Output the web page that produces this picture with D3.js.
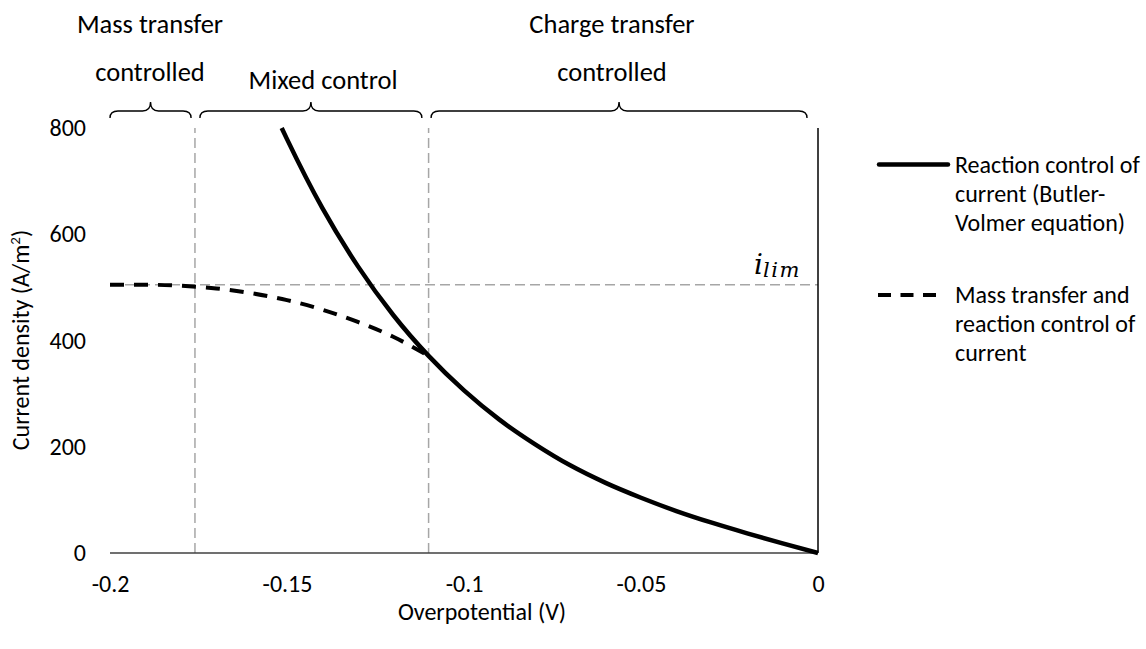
<!DOCTYPE html>
<html>
<head>
<meta charset="utf-8">
<script src="https://cdn.jsdelivr.net/npm/d3@7"></script>
<style>
  html, body { margin: 0; padding: 0; background: #fff; }
  svg { display: block; }
  text { font-family: Carlito, Calibri, Lato, sans-serif; fill: #000; }
</style>
</head>
<body>
<svg id="chart" width="1146" height="649"></svg>
<script>
// Overpotential (V) and current density (A/m²) for the Butler-Volmer curve
const bvEta = [-0.1515, -0.15, -0.14, -0.13, -0.12, -0.11, -0.10, -0.09, -0.08,
               -0.07, -0.06, -0.05, -0.04, -0.03, -0.02, -0.01, 0];
const bvCurrent = [800, 779, 649, 540, 448, 371, 306, 251, 205,
                   165, 132, 104, 79, 57, 37, 18, 0];

// Combined mass transfer + reaction control
const mixEta = [-0.20, -0.19, -0.18, -0.17, -0.16, -0.15, -0.14, -0.13, -0.12, -0.11];
const mixCurrent = [505, 505, 503, 498, 489, 476, 458, 435, 407, 371];

// Limiting current and region boundaries
const iLim = 505;
const boundaries = [-0.176, -0.11];

// Region braces along the top (extent in V) and their labels
const regionFrom = [-0.2, -0.1746, -0.1093];
const regionTo = [-0.1771, -0.1119, -0.0031];
const regionLabelAt = [-0.1887, -0.1398, -0.0582];
const regionLabels = [["Mass transfer", "controlled"], ["Mixed control"], ["Charge transfer", "controlled"]];

// Axes
const xTicks = [-0.2, -0.15, -0.1, -0.05, 0];
const xTickLabels = ["-0.2", "-0.15", "-0.1", "-0.05", "0"];
const yTicks = [0, 200, 400, 600, 800];

// Legend
const legendLabels = [
  ["Reaction control of", "current (Butler-", "Volmer equation)"],
  ["Mass transfer and", "reaction control of", "current"]
];

const svg = d3.select("#chart");
const x = d3.scaleLinear().domain([-0.2, 0]).range([110, 818]);
const y = d3.scaleLinear().domain([0, 800]).range([553, 128]);

// Y tick labels (left)
const yAxis = d3.axisLeft(y).tickValues(yTicks).tickSize(0).tickPadding(0).tickFormat(d3.format("d"));
const gy = svg.append("g").attr("transform", "translate(86,0)").call(yAxis);
gy.select(".domain").remove();
gy.selectAll("text").attr("font-size", 24).attr("font-family", null).attr("fill", "#000");

// X tick labels (bottom)
const xAxis = d3.axisBottom(x).tickValues(xTicks).tickSize(0).tickPadding(0)
  .tickFormat((d, i) => xTickLabels[i]);
const gx = svg.append("g").attr("transform", "translate(0,580)").call(xAxis);
gx.select(".domain").remove();
gx.selectAll("text").attr("font-size", 24).attr("font-family", null).attr("fill", "#000").attr("dy", "0.5em");

// Gray dashed guides
const guide = svg.append("g").attr("stroke", "#a6a6a6").attr("stroke-width", 1.5)
  .attr("stroke-dasharray", "10,5").attr("fill", "none");
guide.append("line").attr("x1", x(-0.2)).attr("x2", x(0)).attr("y1", y(iLim)).attr("y2", y(iLim));
guide.selectAll("line.v").data(boundaries).join("line").attr("class", "v")
  .attr("x1", d => x(d)).attr("x2", d => x(d)).attr("y1", y(0)).attr("y2", y(800));

// Axis lines
svg.append("line").attr("x1", x(-0.2)).attr("x2", x(0)).attr("y1", y(0)).attr("y2", y(0))
  .attr("stroke", "#404040").attr("stroke-width", 1.5);
svg.append("line").attr("x1", x(0)).attr("x2", x(0)).attr("y1", y(0)).attr("y2", y(800))
  .attr("stroke", "#000").attr("stroke-width", 1.5);

// Curves
const line = d3.line().x(d => x(d[0])).y(d => y(d[1])).curve(d3.curveMonotoneX);
svg.append("path").datum(mixEta.map((e, i) => [e, mixCurrent[i]]))
  .attr("d", line).attr("fill", "none").attr("stroke", "#000")
  .attr("stroke-width", 4).attr("stroke-dasharray", "14,10");
svg.append("path").datum(bvEta.map((e, i) => [e, bvCurrent[i]]))
  .attr("d", line).attr("fill", "none").attr("stroke", "#000").attr("stroke-width", 4.5);

// i_lim label
const lim = svg.append("text").attr("x", 754).attr("y", 274)
  .style("font-family", "'DejaVu Serif', serif").style("font-style", "italic");
lim.append("tspan").attr("font-size", 28).text("i");
lim.append("tspan").attr("font-size", 21).attr("dy", 3).attr("letter-spacing", 1.5).text("lim");

// Curly braces
function bracePath(x0, x1) {
  const yb = 118, yh = 111, yp = 102, r = 8;
  const xm = (x0 + x1) / 2;
  return `M${x0},${yb} Q${x0},${yh} ${x0 + r},${yh} L${xm - r},${yh} Q${xm},${yh} ${xm},${yp}` +
         ` Q${xm},${yh} ${xm + r},${yh} L${x1 - r},${yh} Q${x1},${yh} ${x1},${yb}`;
}
svg.append("g").selectAll("path").data(regionFrom).join("path")
  .attr("d", (d, i) => bracePath(x(d), x(regionTo[i])))
  .attr("fill", "none").attr("stroke", "#000").attr("stroke-width", 1.4);

// Region labels
const labelBaselines = { 2: [33, 81], 1: [89] };
regionLabels.forEach((lines, i) => {
  const t = svg.append("text").attr("text-anchor", "middle").attr("font-size", 26.5);
  lines.forEach((s, j) => {
    t.append("tspan").attr("x", x(regionLabelAt[i])).attr("y", labelBaselines[lines.length][j]).text(s);
  });
});

// Axis titles
svg.append("text").attr("x", 482).attr("y", 620).attr("text-anchor", "middle")
  .attr("font-size", 24).text("Overpotential (V)");
const yt = svg.append("text").attr("transform", "translate(29,340) rotate(-90)")
  .attr("text-anchor", "middle").attr("font-size", 24);
yt.append("tspan").text("Current density (A/m");
yt.append("tspan").attr("font-size", 15).attr("dy", -9).text("2");
yt.append("tspan").attr("dy", 9).text(")");

// Legend
const legend = svg.append("g");
legend.append("line").attr("x1", 879).attr("x2", 948).attr("y1", 164.5).attr("y2", 164.5)
  .attr("stroke", "#000").attr("stroke-width", 4.5).attr("stroke-linecap", "round");
legend.append("line").attr("x1", 878).attr("x2", 936).attr("y1", 295).attr("y2", 295)
  .attr("stroke", "#000").attr("stroke-width", 4).attr("stroke-dasharray", "13,9.5");
const legendTop = [165, 295];
legendLabels.forEach((lines, i) => {
  const t = legend.append("text").attr("font-size", 24);
  lines.forEach((s, j) => {
    t.append("tspan").attr("x", 955).attr("y", legendTop[i] + j * 29).attr("dy", "0.35em").text(s);
  });
});
</script>
</body>
</html>
